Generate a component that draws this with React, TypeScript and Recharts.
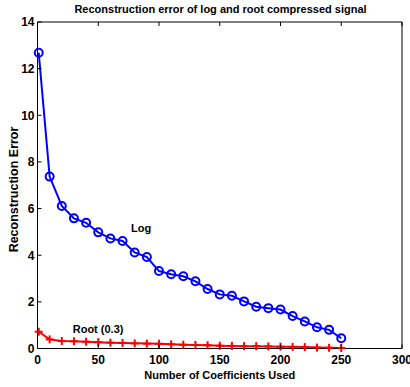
import React from 'react';
import { LineChart, Line, XAxis, YAxis, ReferenceDot, Label } from 'recharts';

const coeffs = [1, 10, 20, 30, 40, 50, 60, 70, 80, 90, 100, 110, 120, 130, 140, 150, 160, 170, 180, 190, 200, 210, 220, 230, 240, 250];
const logErr = [12.68, 7.37, 6.11, 5.58, 5.39, 4.98, 4.72, 4.61, 4.12, 3.92, 3.32, 3.18, 3.1, 2.88, 2.55, 2.32, 2.26, 2.02, 1.79, 1.73, 1.67, 1.39, 1.16, 0.91, 0.8, 0.44];
const rootErr = [0.72, 0.39, 0.32, 0.31, 0.29, 0.27, 0.25, 0.24, 0.22, 0.21, 0.2, 0.18, 0.16, 0.15, 0.14, 0.12, 0.11, 0.1, 0.1, 0.09, 0.08, 0.07, 0.06, 0.04, 0.03, 0.02];
const xTicks = [0, 50, 100, 150, 200, 250, 300];
const yTicks = [0, 2, 4, 6, 8, 10, 12, 14];

const data = coeffs.map((c, i) => ({ n: c, log: logErr[i], root: rootErr[i] }));

const FONT = '"Liberation Sans", Arial, Helvetica, sans-serif';
const TICK = 4;

const BottomTick = (p: any) => (
  <g>
    <line x1={p.x} y1={p.y} x2={p.x} y2={p.y - TICK} stroke="#000" strokeWidth={1} />
    <text x={p.x} y={p.y + 15.5} textAnchor="middle" fontSize={12} fontWeight="bold" fontFamily={FONT} fill="#000">
      {p.payload.value}
    </text>
  </g>
);
const TopTick = (p: any) => (
  <line x1={p.x} y1={p.y} x2={p.x} y2={p.y + TICK} stroke="#000" strokeWidth={1} />
);
const LeftTick = (p: any) => (
  <g>
    <line x1={p.x} y1={p.y} x2={p.x + TICK} y2={p.y} stroke="#000" strokeWidth={1} />
    <text x={p.x - 3} y={p.y} dy="0.36em" textAnchor="end" fontSize={12} fontWeight="bold" fontFamily={FONT} fill="#000">
      {p.payload.value}
    </text>
  </g>
);
const RightTick = (p: any) => (
  <line x1={p.x} y1={p.y} x2={p.x - TICK} y2={p.y} stroke="#000" strokeWidth={1} />
);

const PlusDot = (p: any) => {
  const { cx, cy } = p;
  if (cx == null || cy == null) return null;
  return (
    <g key={`p${p.index}`}>
      <line x1={cx - 4} y1={cy} x2={cx + 4} y2={cy} stroke="#ff0000" strokeWidth={2} />
      <line x1={cx} y1={cy - 4} x2={cx} y2={cy + 4} stroke="#ff0000" strokeWidth={2} />
    </g>
  );
};

const textLabel = (value: string) => (props: any) => {
  const vb = props.viewBox;
  return (
    <text x={vb.x} y={vb.y} textAnchor="start" fontSize={11} fontWeight="bold" fontFamily={FONT} fill="#000">
      {value}
    </text>
  );
};

export default function App() {
  return (
    <div style={{ position: 'absolute', left: 0, top: 0 }}>
      <LineChart width={410} height={387} data={data} margin={{ top: 21, right: 7, bottom: 8, left: 8 }}>
        <XAxis
          dataKey="n"
          type="number"
          domain={[0, 300]}
          ticks={xTicks}
          interval={0}
          tickSize={0}
          tickMargin={0}
          tickLine={false}
          tick={BottomTick}
          height={30.5}
          axisLine={{ stroke: '#000' }}
        >
          <Label
            content={(props: any) => {
              const vb = props.viewBox;
              return (
                <text x={vb.x + vb.width / 2} y={379} textAnchor="middle" fontSize={11} fontWeight="bold" fontFamily={FONT} fill="#000">
                  Number of Coefficients Used
                </text>
              );
            }}
          />
        </XAxis>
        <XAxis
          xAxisId="top"
          orientation="top"
          dataKey="n"
          type="number"
          domain={[0, 300]}
          ticks={xTicks}
          interval={0}
          tickSize={0}
          tickMargin={0}
          tickLine={false}
          tick={TopTick}
          height={1}
          axisLine={{ stroke: '#000' }}
        >
          <Label
            content={(props: any) => {
              const vb = props.viewBox;
              return (
                <text x={220.5} y={13} textAnchor="middle" fontSize={11} fontWeight="bold" fontFamily={FONT} fill="#000">
                  Reconstruction error of log and root compressed signal
                </text>
              );
            }}
          />
        </XAxis>
        <YAxis
          type="number"
          domain={[0, 14]}
          ticks={yTicks}
          interval={0}
          tickSize={0}
          tickMargin={0}
          tickLine={false}
          tick={LeftTick}
          width={29.5}
          axisLine={{ stroke: '#000' }}
        >
          <Label
            content={(props: any) => {
              return (
                <text
                  x={17.5}
                  y={189.5}
                  transform="rotate(-90 17.5 189.5)"
                  textAnchor="middle"
                  fontSize={12.5}
                  fontWeight="bold"
                  fontFamily={FONT}
                  fill="#000"
                >
                  Reconstruction Error
                </text>
              );
            }}
          />
        </YAxis>
        <YAxis
          yAxisId="right"
          orientation="right"
          type="number"
          domain={[0, 14]}
          ticks={yTicks}
          interval={0}
          tickSize={0}
          tickMargin={0}
          tickLine={false}
          tick={RightTick}
          width={1}
          axisLine={{ stroke: '#000' }}
        />
        <Line
          dataKey="log"
          stroke="#0000ff"
          strokeWidth={2}
          dot={{ r: 4, stroke: '#0000ff', strokeWidth: 2, fill: 'none' }}
          isAnimationActive={false}
        />
        <Line dataKey="root" stroke="#ff0000" strokeWidth={2} dot={PlusDot} isAnimationActive={false} />
        <ReferenceDot x={77} y={5.0} r={0} fill="none" stroke="none" label={textLabel('Log')} />
        <ReferenceDot x={29} y={0.68} r={0} fill="none" stroke="none" label={textLabel('Root (0.3)')} />
      </LineChart>
    </div>
  );
}
